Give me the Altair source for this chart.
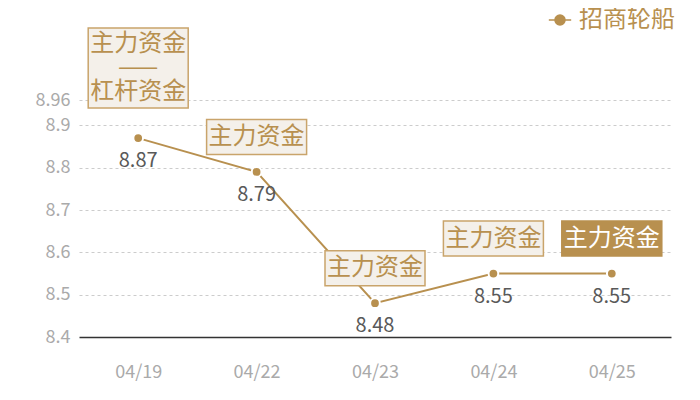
import altair as alt
import pandas as pd

dates = ["04/19", "04/22", "04/23", "04/24", "04/25"]
values = [8.87, 8.79, 8.48, 8.55, 8.55]
notes = ["主力资金\n——\n杠杆资金", "主力资金", "主力资金", "主力资金", "主力资金"]
note_filled = [False, False, False, False, True]
note_tall = [True, False, False, False, False]
y_ticks = [8.4, 8.5, 8.6, 8.7, 8.8, 8.9, 8.96]
series_name = "招商轮船"

GOLD = "#b8904f"
BORDER = "#c9a46b"
BOXFILL = "#f4f0ea"
FONT = "Noto Sans CJK SC"

df = pd.DataFrame({
    "date": dates,
    "value": values,
    "note": notes,
    "filled": note_filled,
    "tall": note_tall,
    "series": [series_name] * len(dates),
})
df["note_lines"] = df["note"].str.split("\n")

x = alt.X("date:N", sort=dates, scale=alt.Scale(type="point", padding=0.5),
          axis=alt.Axis(title=None, labelAngle=0, ticks=False, grid=False,
                        domainColor="#333333", domainWidth=1.5,
                        labelColor="#aaaaaa", labelFontSize=18, labelFont=FONT,
                        labelPadding=26))
y = alt.Y("value:Q", scale=alt.Scale(domain=[8.4, 9.1774], nice=False, zero=False),
          axis=alt.Axis(title=None, values=y_ticks, ticks=False, domain=False,
                        grid=True, gridDash=[3, 3], gridColor="#cccccc",
                        gridOpacity={"condition": {"test": "datum.value == 8.4", "value": 0}, "value": 1},
                        labelColor="#aaaaaa", labelFontSize=18, labelFont=FONT,
                        labelPadding=9, minExtent=71, maxExtent=71,
                        labelExpr="datum.value == 8.96 ? '8.96' : format(datum.value, '.1f')"))

base = alt.Chart(df).encode(x=x, y=y)

legend_shape = "M-1,0L-0.45,0M0.45,0L1,0M-0.45,0A0.45,0.45,0,1,1,0.45,0A0.45,0.45,0,1,1,-0.45,0Z"

line = base.mark_line(strokeWidth=2).encode(
    color=alt.Color("series:N", scale=alt.Scale(domain=[series_name], range=[GOLD]),
                    legend=alt.Legend(title=None, orient="none", legendX=469, legendY=0,
                                      symbolType=legend_shape, symbolSize=500,
                                      symbolStrokeWidth=1.5, symbolFillColor=GOLD,
                                      symbolStrokeColor=GOLD,
                                      labelColor=GOLD, labelFontSize=24, labelFont=FONT,
                                      labelOffset=7, padding=0))
)

points = base.mark_point(filled=True, size=95, color=GOLD, stroke="white",
                         strokeWidth=2, opacity=1, strokeOpacity=1)

value_labels = base.mark_text(dy=23, fontSize=20, color="#595959", font=FONT).encode(
    text=alt.Text("value:Q", format=".2f"))

box_short = "M-1,-0.35L1,-0.35L1,0.35L-1,0.35Z"
box_tall = "M-1,-0.8L1,-0.8L1,0.8L-1,0.8Z"

boxes_short = base.mark_point(shape=box_short, size=10000, yOffset=-35, filled=False,
                              strokeWidth=1.5, opacity=1).encode(
    fill=alt.condition("datum.filled", alt.value(GOLD), alt.value(BOXFILL)),
    stroke=alt.condition("datum.filled", alt.value(GOLD), alt.value(BORDER)),
).transform_filter("!datum.tall")

boxes_tall = base.mark_point(shape=box_tall, size=10000, yOffset=-70, filled=False,
                             strokeWidth=1.5, opacity=1, fill=BOXFILL, stroke=BORDER
                             ).transform_filter("datum.tall")

texts_short = base.mark_text(yOffset=-35, fontSize=24, font=FONT, baseline="middle").encode(
    text="note:N",
    color=alt.condition("datum.filled", alt.value("white"), alt.value(GOLD)),
).transform_filter("!datum.tall")

texts_tall = base.mark_text(yOffset=-94, fontSize=24, font=FONT, baseline="middle",
                            lineHeight=24, color=GOLD).encode(
    text="note_lines",
).transform_filter("datum.tall")

chart = alt.layer(line, points, value_labels, boxes_short, boxes_tall, texts_short, texts_tall).properties(
    width=592, height=329, padding={"left": 0, "top": 0, "right": 0, "bottom": 0},
    background="white"
).configure_view(stroke=None, strokeWidth=0)

chart.save("out.html", embed_options={"renderer": "svg", "actions": False})
